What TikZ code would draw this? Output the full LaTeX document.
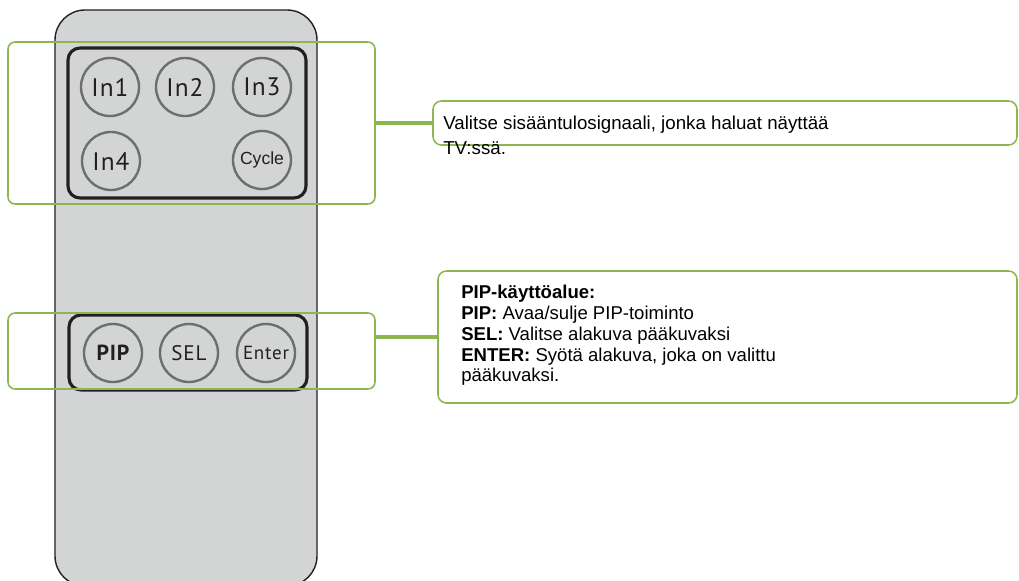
\documentclass[tikz,border=0pt]{standalone}
\usepackage{fontspec}
\setmainfont{Liberation Sans}
\newfontfamily\btnfont[LetterSpace=4]{PT Sans}
\usetikzlibrary{fit}

\definecolor{remotegray}{HTML}{D3D4D4}
\definecolor{btnedge}{HTML}{6D6E71}
\definecolor{leafgreen}{HTML}{8DB64F}
\definecolor{inkblack}{HTML}{231F20}

\tikzset{
  button/.style={circle, draw=btnedge, line width=1.7pt, fill=remotegray,
    minimum size=1.45cm, inner sep=0pt, text=inkblack},
  grpbox/.style={draw=leafgreen, line width=1.1pt, rounded corners=5pt, inner sep=0pt},
  infobox/.style={draw=leafgreen, line width=1.1pt, rounded corners=6pt, inner sep=0pt},
  link/.style={draw=leafgreen, line width=2.6pt},
  infotext/.style={anchor=north west, inner sep=0pt, align=left,
    font=\fontsize{13.3}{17.5}\selectfont}
}

\begin{document}
\begin{tikzpicture}[x=0.025cm, y=-0.025cm]
    \clip (0,0) rectangle (1019,580);
    \useasboundingbox (0,0) rectangle (1019,580);

    % remote body and key pads
    \draw[fill=remotegray, draw=inkblack, line width=1pt, rounded corners=0.75cm] (55,10) rectangle (317,586);
    \draw[inkblack, line width=2.2pt, rounded corners=0.3cm] (68,48) rectangle (306,198);
    \draw[inkblack, line width=2.2pt, rounded corners=0.3cm] (69,315) rectangle (307,390);

    % input buttons
    \node[button, font=\btnfont\fontsize{18}{18}\selectfont] (in1) at (110,87) {In1};
    \node[button, font=\btnfont\fontsize{18}{18}\selectfont] (in2) at (185,87) {In2};
    \node[button, font=\btnfont\fontsize{18}{18}\selectfont] (in3) at (262,87) {In3};
    \node[button, font=\btnfont\fontsize{18}{18}\selectfont] (in4) at (111,161) {In4};
    \node[button, font=\fontsize{12.5}{12.5}\selectfont] (cycle) at (262,160) {Cycle};

    % pip buttons
    \node[button, font=\btnfont\bfseries\fontsize{15.5}{15.5}\selectfont] (pip) at (113,353) {PIP};
    \node[button, font=\btnfont\fontsize{15}{15}\selectfont] (sel) at (189,353) {SEL};
    \node[button, font=\btnfont\fontsize{13.5}{13.5}\selectfont] (enter) at (266,353) {Enter};

    % green groups
    \node[grpbox, fit={(8,42) (375,204)}] (inputs) {};
    \node[grpbox, fit={(8,313) (375,389)}] (pips) {};

    % explanations
    \node[infobox, fit={(433,101) (1017,145)}] (inputinfo) {};
    \node[infotext] (inputtext) at (443,116) {Valitse sisääntulosignaali, jonka haluat näyttää\\TV:ssä.};

    \node[infobox, fit={(438,271) (1017,403)}] (pipinfo) {};
    \node[infotext, font=\fontsize{13.2}{14.8}\selectfont] (piptext) at (461,285)
        {\textbf{PIP-käyttöalue:}\\
         \textbf{PIP:} Avaa/sulje PIP-toiminto\\
         \textbf{SEL:} Valitse alakuva pääkuvaksi\\
         \textbf{ENTER:} Syötä alakuva, joka on valittu\\
         pääkuvaksi.};

    % connectors
    \draw[link] (inputs.east) -- (inputs.east -| inputinfo.west);
    \draw[link] (pips.east |- pipinfo.west) -- (pipinfo.west);
\end{tikzpicture}
\end{document}
